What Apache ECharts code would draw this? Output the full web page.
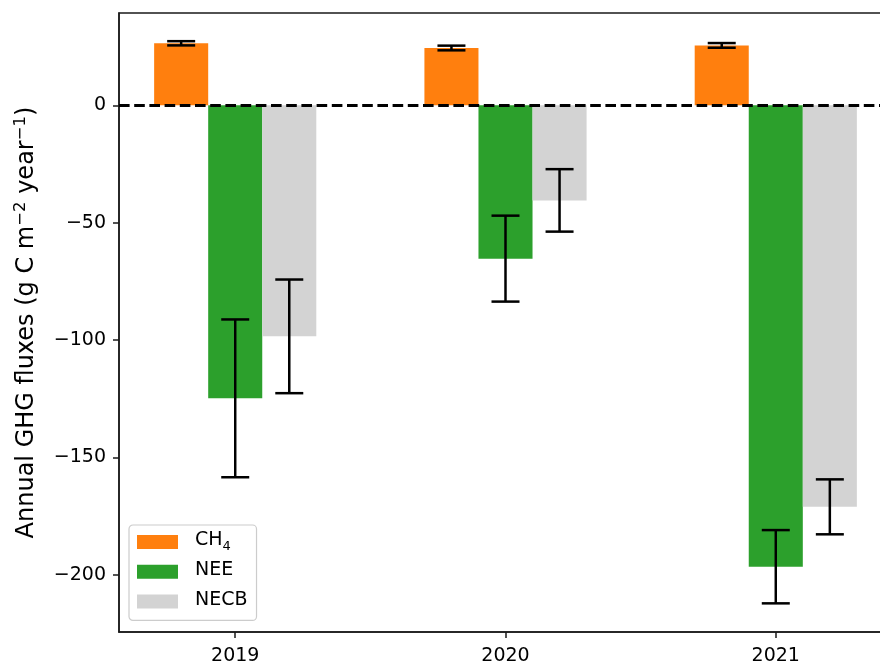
<!DOCTYPE html>
<html>
<head>
<meta charset="utf-8">
<script src="https://cdn.jsdelivr.net/npm/echarts@6/dist/echarts.min.js"></script>
<style>html,body{margin:0;padding:0;background:#fff}#c{width:880px;height:664px}</style>
</head>
<body>
<div id="c"></div>
<script>
// ---- data ----
var years = ['2019', '2020', '2021'];
var seriesNames = ['CH4', 'NEE', 'NECB'];
var ch4 = [26.4, 24.4, 25.5];
var ch4Err = [0.9, 1.0, 1.0];
var nee = [-124.8, -65.3, -196.5];
var neeErr = [33.6, 18.3, 15.6];
var necb = [-98.4, -40.5, -171.0];
var necbErr = [24.2, 13.3, 11.7];
var yTicks = [0, -50, -100, -150, -200];
var xTicks = [0, 1, 2];

// ---- layout / style ----
var FONT = 'DejaVu Sans';
var BAR_W = 0.2;
var CAP = 14;

function makeSeries(name, vals, errs, offset, color, extra) {
  var s = {
    type: 'custom',
    name: name,
    itemStyle: { color: color },
    data: vals.map(function (v, i) { return [i, v, errs[i]]; }),
    encode: { x: 0, y: 1 },
    renderItem: function (params, api) {
      var x = api.value(0), v = api.value(1), e = api.value(2);
      var a = api.coord([x + offset - BAR_W / 2, 0]);
      var b = api.coord([x + offset + BAR_W / 2, v]);
      var cx = api.coord([x + offset, 0])[0];
      var yHi = api.coord([x + offset, v + e])[1];
      var yLo = api.coord([x + offset, v - e])[1];
      var lineStyle = { stroke: '#000', lineWidth: 2.5 };
      return {
        type: 'group',
        children: [
          { type: 'rect', shape: { x: a[0], y: Math.min(a[1], b[1]), width: b[0] - a[0], height: Math.abs(b[1] - a[1]) }, style: { fill: color } },
          { type: 'line', shape: { x1: cx, y1: yHi, x2: cx, y2: yLo }, style: lineStyle, z2: 5 },
          { type: 'line', shape: { x1: cx - CAP, y1: yHi, x2: cx + CAP, y2: yHi }, style: lineStyle, z2: 5 },
          { type: 'line', shape: { x1: cx - CAP, y1: yLo, x2: cx + CAP, y2: yLo }, style: lineStyle, z2: 5 }
        ]
      };
    }
  };
  if (extra) { for (var k in extra) s[k] = extra[k]; }
  return s;
}

var chart = echarts.init(document.getElementById('c'), null, { renderer: 'canvas' });
chart.setOption({
  animation: false,
  backgroundColor: '#fff',
  textStyle: { fontFamily: FONT },
  grid: { left: 119, top: 13, width: 773, height: 619, containLabel: false, outerBoundsMode: 'none',
    show: true, borderColor: '#1a1a1a', borderWidth: 1.5, backgroundColor: 'transparent' },
  xAxis: {
    type: 'value', min: -0.43, max: 2.43,
    axisLine: { show: true, onZero: false, lineStyle: { color: '#1a1a1a', width: 1.5 } },
    axisTick: { show: true, length: 6, customValues: xTicks, lineStyle: { color: '#1a1a1a', width: 1.5 } },
    axisLabel: { customValues: xTicks, margin: 15, fontSize: 19, color: '#000', fontFamily: FONT,
      formatter: function (v) { return years[Math.round(v)]; } },
    splitLine: { show: false }
  },
  yAxis: {
    type: 'value', min: -224.3, max: 39.3,
    name: '{n|Annual GHG fluxes (g C m}{s|\u22122}{n| year}{s|\u22121}{n|)}',
    nameLocation: 'middle', nameGap: 80, nameRotate: 90,
    nameTextStyle: {
      fontSize: 24, color: '#000', fontFamily: FONT,
      rich: {
        n: { fontSize: 24, lineHeight: 27, verticalAlign: 'bottom', color: '#000', fontFamily: FONT },
        s: { fontSize: 16.5, lineHeight: 19, verticalAlign: 'top', color: '#000', fontFamily: FONT }
      }
    },
    axisLine: { show: true, onZero: false, lineStyle: { color: '#1a1a1a', width: 1.5 } },
    axisTick: { show: true, length: 6, customValues: yTicks, lineStyle: { color: '#1a1a1a', width: 1.5 } },
    axisLabel: { customValues: yTicks, margin: 13, fontSize: 19, color: '#000', fontFamily: FONT,
      formatter: function (v) { return String(v).replace('-', '\u2212'); } },
    splitLine: { show: false }
  },
  legend: {
    orient: 'vertical', left: 129, top: 525,
    icon: 'rect', itemWidth: 41, itemHeight: 14, itemGap: 7.7,
    padding: [6, 9, 8, 8],
    backgroundColor: 'rgba(255,255,255,0.8)', borderColor: '#cccccc', borderWidth: 1.2, borderRadius: 4,
    formatter: function (name) {
      if (name === 'CH4') return '{n|CH}{b|4}';
      return '{n|' + name + '}';
    },
    textStyle: {
      fontSize: 19, color: '#000', fontFamily: FONT, lineHeight: 22, padding: [0, 0, 0, 12],
      rich: {
        n: { fontSize: 19, lineHeight: 22, verticalAlign: 'top', color: '#000', fontFamily: FONT },
        b: { fontSize: 13, lineHeight: 14, verticalAlign: 'bottom', color: '#000', fontFamily: FONT }
      }
    },
    data: seriesNames
  },
  series: [
    makeSeries(seriesNames[0], ch4, ch4Err, -0.2, '#ff7f0e'),
    makeSeries(seriesNames[1], nee, neeErr, 0, '#2ca02c'),
    makeSeries(seriesNames[2], necb, necbErr, 0.2, '#d3d3d3', {
      markLine: {
        silent: true, symbol: 'none', label: { show: false },
        lineStyle: { color: '#000', width: 2.8, type: [10.6, 4.6] },
        data: [{ yAxis: 0 }]
      }
    })
  ]
});
</script>
</body>
</html>
